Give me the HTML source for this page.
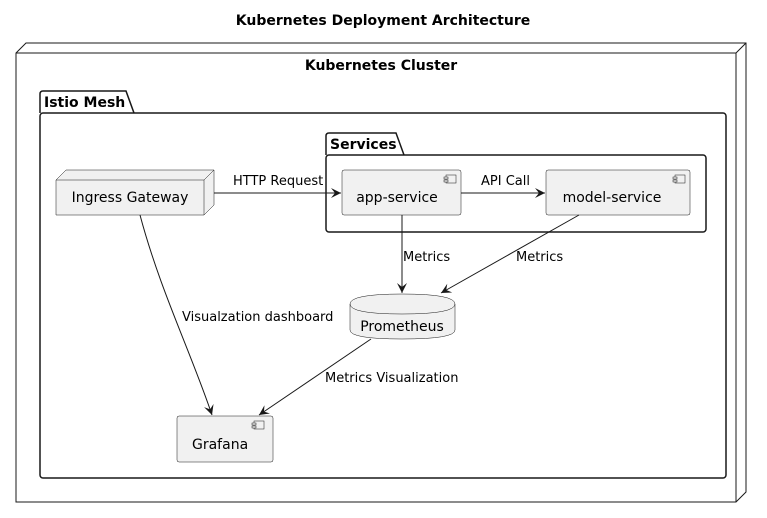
<!DOCTYPE html>
<html><head><style>body{margin:0;background:#fff}svg{display:block}</style></head><body>
<svg width="767" height="518" xmlns="http://www.w3.org/2000/svg" font-family="'DejaVu Sans',sans-serif" font-size="14">
<defs><marker id="a" markerWidth="12" markerHeight="10" refX="10" refY="5" orient="auto" markerUnits="userSpaceOnUse"><path d="M0,0 L10,5 L0,10 L4,5 Z" fill="#181818"/></marker></defs>
<text x="383" y="25" text-anchor="middle" font-weight="bold" font-size="14">Kubernetes Deployment Architecture</text>
<path d="M16,53 L26,43 L746,43 L746,492 L736,502 L16,502 Z" fill="#fff" stroke="#181818"/>
<path d="M16,53 L736,53 L746,43 M736,53 L736,502" fill="none" stroke="#181818"/>
<text x="381" y="70" text-anchor="middle" font-weight="bold">Kubernetes Cluster</text>
<path d="M40,113 L40,94 Q40,91 43,91 L126,91 L134,113" fill="none" stroke="#181818" stroke-width="1.5"/>
<rect x="40" y="113" width="686" height="365" rx="3" fill="none" stroke="#181818" stroke-width="1.5"/>
<text x="44" y="107" font-weight="bold">Istio Mesh</text>
<path d="M326,155 L326,136 Q326,133 329,133 L396,133 L404,155" fill="none" stroke="#181818" stroke-width="1.5"/>
<rect x="326" y="155" width="380" height="77" rx="3" fill="none" stroke="#181818" stroke-width="1.5"/>
<text x="330" y="149" font-weight="bold">Services</text>
<path d="M56,180 L66,170 L214,170 L214,205 L204,215 L56,215 Z" fill="#f1f1f1" stroke="#181818" stroke-width="0.5"/>
<path d="M56,180 L204,180 L214,170 M204,180 L204,215" fill="none" stroke="#181818" stroke-width="0.5"/>
<text x="130" y="202" text-anchor="middle">Ingress Gateway</text>
<rect x="342" y="170" width="119" height="45" rx="2" fill="#f1f1f1" stroke="#181818" stroke-width="0.5"/>
<rect x="446" y="175" width="10" height="8" fill="#f1f1f1" stroke="#181818" stroke-width="0.5"/>
<rect x="444" y="177" width="4" height="2" fill="#f1f1f1" stroke="#181818" stroke-width="0.5"/>
<rect x="444" y="180" width="4" height="2" fill="#f1f1f1" stroke="#181818" stroke-width="0.5"/>
<text x="397" y="202" text-anchor="middle">app-service</text>
<rect x="546" y="170" width="144" height="45" rx="2" fill="#f1f1f1" stroke="#181818" stroke-width="0.5"/>
<rect x="675" y="175" width="10" height="8" fill="#f1f1f1" stroke="#181818" stroke-width="0.5"/>
<rect x="673" y="177" width="4" height="2" fill="#f1f1f1" stroke="#181818" stroke-width="0.5"/>
<rect x="673" y="180" width="4" height="2" fill="#f1f1f1" stroke="#181818" stroke-width="0.5"/>
<text x="612" y="202" text-anchor="middle">model-service</text>
<path d="M350,304 Q350,294 402,294 Q455,294 455,304 L455,330 Q455,339 402,339 Q350,339 350,330 Z" fill="#f1f1f1" stroke="#181818" stroke-width="0.5"/>
<path d="M350,304 Q350,314 402,314 Q455,314 455,304" fill="none" stroke="#181818" stroke-width="0.5"/>
<text x="402" y="331" text-anchor="middle">Prometheus</text>
<rect x="177" y="416" width="96" height="46" rx="2" fill="#f1f1f1" stroke="#181818" stroke-width="0.5"/>
<rect x="254" y="421" width="10" height="8" fill="#f1f1f1" stroke="#181818" stroke-width="0.5"/>
<rect x="252" y="423" width="4" height="2" fill="#f1f1f1" stroke="#181818" stroke-width="0.5"/>
<rect x="252" y="426" width="4" height="2" fill="#f1f1f1" stroke="#181818" stroke-width="0.5"/>
<text x="192" y="449">Grafana</text>
<g stroke="#181818" fill="none" marker-end="url(#a)">
<path d="M214,193 L341,193"/>
<path d="M461,193 L545,193"/>
<path d="M402,215 L402,293"/>
<path d="M579,215 L441,293"/>
<path d="M140,215 C160,290 190,350 212,415"/>
<path d="M371,339 L259,415"/>
</g>
<text x="233" y="185" font-size="13">HTTP Request</text>
<text x="481" y="185" font-size="13">API Call</text>
<text x="403" y="261" font-size="13">Metrics</text>
<text x="516" y="261" font-size="13">Metrics</text>
<text x="182" y="321" font-size="13">Visualzation dashboard</text>
<text x="325" y="382" font-size="13">Metrics Visualization</text>
</svg>
</body></html>
